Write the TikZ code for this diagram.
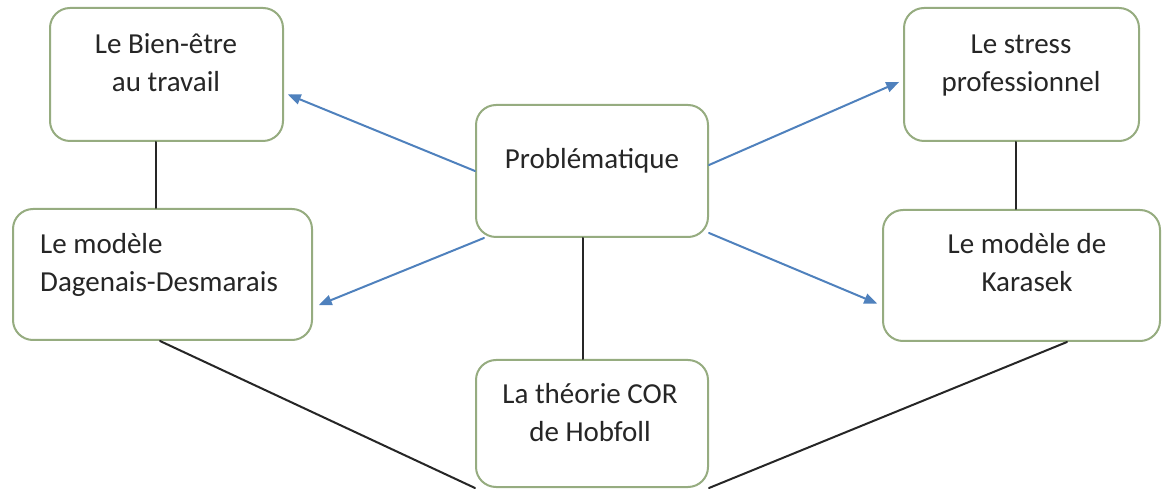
\documentclass[tikz,border=0pt]{standalone}
\usepackage{fontspec}
\setmainfont{Carlito}
\usepackage{tikz}
\usetikzlibrary{arrows}
\definecolor{boxline}{RGB}{150,172,128}
\definecolor{arrowblue}{RGB}{79,129,189}
\definecolor{textgray}{RGB}{38,38,38}

\begin{document}
\begin{tikzpicture}[line cap=round,line join=round,>=triangle 45,x=1pt,y=1pt,
  boite/.style={draw=boxline,line width=2pt,rounded corners=20pt,fill=white,inner sep=0pt},
  texte/.style={inner sep=0pt,text=textgray,font=\fontsize{29}{38}\selectfont,align=center},
  fleche/.style={->,draw=arrowblue,line width=2pt},
  lien/.style={draw=black!85,line width=2pt}]
\useasboundingbox (0,0) rectangle (1162,490);
\node [boite,minimum width=233,minimum height=133] (bien) at (166.5,415.5) {};
\node [boite,minimum width=235,minimum height=133] (stress) at (1021.5,415.5) {};
\node [boite,minimum width=232,minimum height=132] (prob) at (592,319) {};
\node [boite,minimum width=299,minimum height=131] (dag) at (162.5,215.5) {};
\node [boite,minimum width=277,minimum height=131] (kar) at (1021.5,214.5) {};
\node [boite,minimum width=232,minimum height=127] (cor) at (592,66.5) {};
\node [texte,anchor=north] (bien-t) at (166,463.6) {\strut Le Bien-être\\au travail};
\node [texte,anchor=north] (stress-t) at (1021,463.6) {\strut Le stress\\professionnel};
\node [texte,anchor=north] (prob-t) at (592,348.6) {\strut Problématique};
\node [texte,anchor=north west,align=left] (dag-t) at (40,263.6) {\strut Le modèle\\Dagenais-Desmarais};
\node [texte,anchor=north] (kar-t) at (1027,263.6) {\strut Le modèle de\\Karasek};
\node [texte,anchor=north] (cor-t) at (590,113.6) {\strut La théorie COR\\de Hobfoll};
\draw [fleche] (prob.west) -- ([xshift=4,yshift=-20]bien.east);
\draw [fleche] ([yshift=6]prob.east) -- ([xshift=-4,yshift=-7.5]stress.west);
\draw [fleche] ([xshift=9]prob.south west) -- ([xshift=6,yshift=-30.5]dag.east);
\draw [fleche] ([yshift=5]prob.south east) -- ([xshift=-5,yshift=-28]kar.west);
\draw [lien] ([xshift=-11]bien.south) -- ([xshift=-11]bien.south |- dag.north);
\draw [lien] ([xshift=-6]stress.south) -- ([xshift=-6]stress.south |- kar.north);
\draw [lien] ([xshift=-9]prob.south) -- ([xshift=-9]prob.south |- cor.north);
\draw [lien] ([xshift=-2.5]dag.south) -- (cor.south west);
\draw [lien] ([xshift=45.5]kar.south) -- (cor.south east);
\end{tikzpicture}
\end{document}
